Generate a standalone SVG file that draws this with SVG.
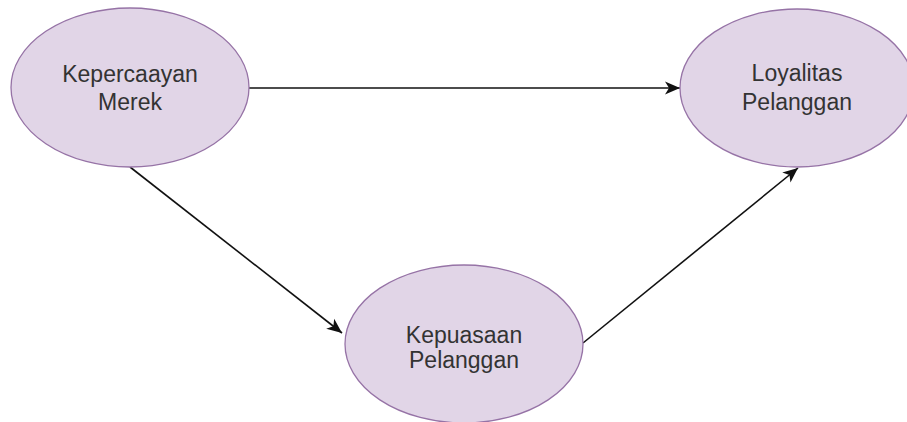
<svg xmlns="http://www.w3.org/2000/svg" width="907" height="422" viewBox="0 0 907 422">
  <style>
    .node ellipse { fill: #e1d5e7; stroke: #9673a6; stroke-width: 1.3; }
    .node text { font-family: "Liberation Sans", Arial, sans-serif; font-size: 23px; fill: #333333; text-anchor: middle; }
    .edge { stroke: #111; stroke-width: 1.6; fill: none; marker-end: url(#arrow); }
  </style>
  <defs>
    <marker id="arrow" markerUnits="userSpaceOnUse" markerWidth="16" markerHeight="14" refX="15" refY="7" orient="auto">
      <path d="M0,0.5 L15,7 L0,13.5 L4,7 Z" fill="#111"/>
    </marker>
  </defs>

  <g id="connectors">
    <line class="edge" x1="249" y1="88" x2="680" y2="88"/>
    <line class="edge" x1="130" y1="167" x2="342" y2="333"/>
    <line class="edge" x1="583" y1="343" x2="798" y2="168"/>
  </g>

  <g id="kepercayaan-merek" class="node">
    <ellipse cx="130" cy="87.5" rx="119" ry="79.5"/>
    <text x="130" y="82">Kepercaayan</text>
    <text x="130" y="110">Merek</text>
  </g>

  <g id="loyalitas-pelanggan" class="node">
    <ellipse cx="797" cy="88" rx="117" ry="79"/>
    <text x="797" y="81">Loyalitas</text>
    <text x="797" y="110">Pelanggan</text>
  </g>

  <g id="kepuasaan-pelanggan" class="node">
    <ellipse cx="464" cy="344" rx="119" ry="79"/>
    <text x="464" y="343">Kepuasaan</text>
    <text x="464" y="368">Pelanggan</text>
  </g>
</svg>
